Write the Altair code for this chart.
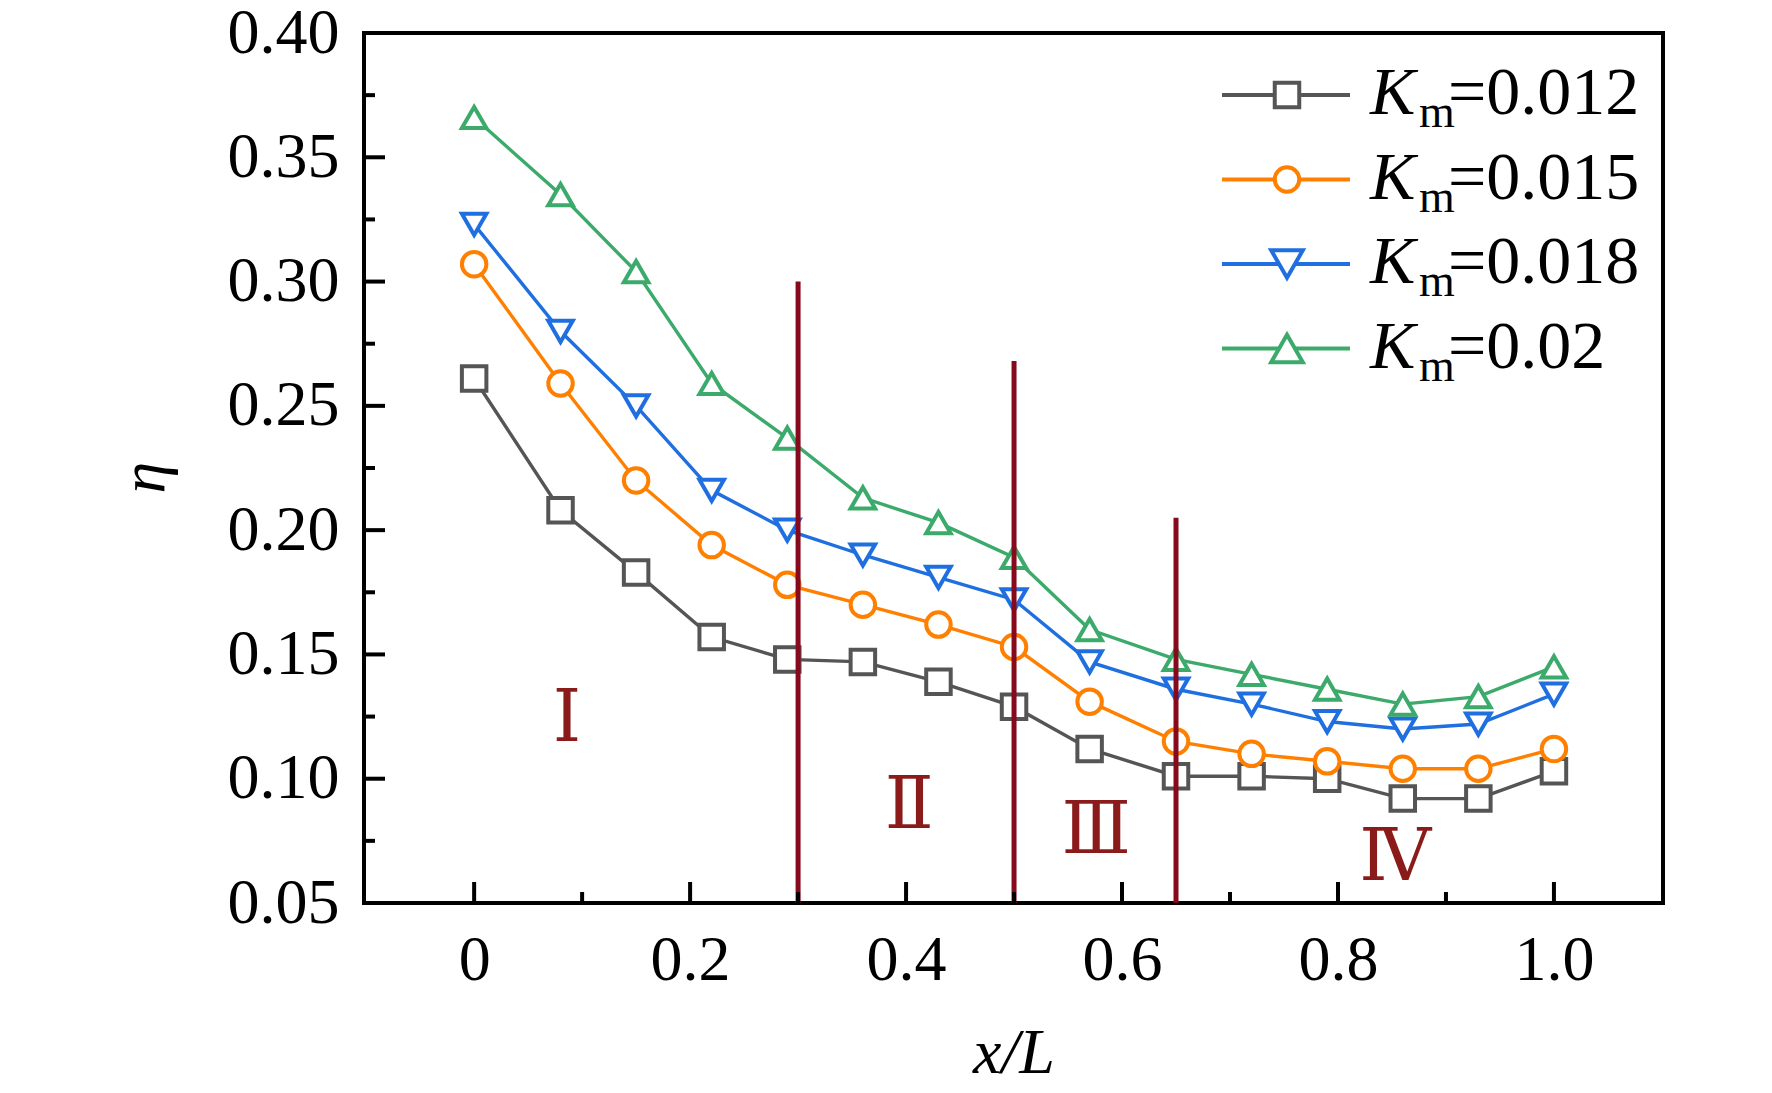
import altair as alt
import pandas as pd

# ---- data ----
x_pos = [0, 0.08, 0.15, 0.22, 0.29, 0.36, 0.43, 0.50, 0.57, 0.65, 0.72, 0.79, 0.86, 0.93, 1.0]
km_012 = [0.261, 0.208, 0.183, 0.157, 0.148, 0.147, 0.139, 0.129, 0.112, 0.101, 0.101, 0.100, 0.092, 0.092, 0.103]
km_015 = [0.307, 0.259, 0.220, 0.194, 0.178, 0.170, 0.162, 0.153, 0.131, 0.115, 0.110, 0.107, 0.104, 0.104, 0.112]
km_018 = [0.323, 0.280, 0.250, 0.216, 0.200, 0.190, 0.181, 0.172, 0.147, 0.136, 0.130, 0.123, 0.120, 0.122, 0.134]
km_020 = [0.366, 0.335, 0.304, 0.259, 0.237, 0.213, 0.203, 0.189, 0.160, 0.148, 0.142, 0.136, 0.130, 0.133, 0.145]
series_names = ["0.012", "0.015", "0.018", "0.02"]
series_values = [km_012, km_015, km_018, km_020]
series_colors = ["#555555", "#FF8000", "#1F6FE0", "#3BAA6B"]
series_shapes = ["square", "circle", "triangle-down", "triangle-up"]
series_sizes = [600, 600, 1000, 1000]

bound_x = [0.30, 0.50, 0.65]
bound_top = [0.300, 0.268, 0.205]
bound_bottom = 0.05

region_labels = ["Ⅰ", "Ⅱ", "Ⅲ", "Ⅳ"]
region_x = [0.086, 0.403, 0.576, 0.853]
region_y = [0.124, 0.089, 0.079, 0.068]

x_major = [0, 0.2, 0.4, 0.6, 0.8, 1.0]
x_minor = [0.1, 0.3, 0.5, 0.7, 0.9]
y_major = [0.05, 0.10, 0.15, 0.20, 0.25, 0.30, 0.35, 0.40]
y_minor = [0.075, 0.125, 0.175, 0.225, 0.275, 0.325, 0.375]

# ---- tables ----
rows = []
for name, vals in zip(series_names, series_values):
    for xv, yv in zip(x_pos, vals):
        rows.append({"series": name, "x": xv, "eta": yv})
df = pd.DataFrame(rows)
bounds = pd.DataFrame({"x": bound_x, "eta": bound_top, "bottom": [bound_bottom] * len(bound_x)})
regions = pd.DataFrame({"label": region_labels, "x": region_x, "eta": region_y})

FONT = "Liberation Serif"
W, H = 1299, 870
xscale = alt.Scale(domain=[-0.102, 1.101], nice=False, zero=False)
yscale = alt.Scale(domain=[0.05, 0.40], nice=False, zero=False)
color = alt.Color("series:N", scale=alt.Scale(domain=series_names, range=series_colors), legend=None)
shape = alt.Shape("series:N", scale=alt.Scale(domain=series_names, range=series_shapes), legend=None)
size = alt.Size("series:N", scale=alt.Scale(domain=series_names, range=series_sizes), legend=None)

X = lambda: alt.X("x:Q", scale=xscale)
Y = lambda: alt.Y("eta:Q", scale=yscale)

base = alt.Chart(df)
lines = base.mark_line(strokeWidth=3.4).encode(
    x=alt.X("x:Q", scale=xscale,
            axis=alt.Axis(values=x_major, title="x/L", titleFontStyle="italic",
                          labelExpr="datum.value == 0 ? '0' : format(datum.value, '.1f')",
                          labelBaseline="alphabetic", labelPadding=76,
                          titleBaseline="alphabetic", titleY=169)),
    y=alt.Y("eta:Q", scale=yscale,
            axis=alt.Axis(values=y_major, format=".2f", title="η", titleFontStyle="italic",
                          labelPadding=25, titleX=-201, titleY=444,
                          titleBaseline="alphabetic", titleAngle=-90)),
    color=color, detail="series:N",
)
points = base.mark_point(filled=False, fill="white", fillOpacity=1, opacity=1, strokeWidth=4).encode(
    x=X(), y=Y(), color=color, shape=shape, size=size,
)

rules = alt.Chart(bounds).mark_rule(color="#870A1C", strokeWidth=5).encode(
    x=X(), y=Y(), y2="bottom:Q",
)

region_text = alt.Chart(regions).mark_text(
    font="DejaVu Serif", fontSize=72, color="#8B1A1A", align="center", baseline="middle"
).encode(x=X(), y=Y(), text="label:N")

# inward ticks
def xticks(vals, length):
    return alt.Chart(pd.DataFrame({"x": vals})).mark_rule(color="black", strokeWidth=4).encode(
        x=X(), y=alt.value(H), y2=alt.value(H - length))

def yticks(vals, length):
    return alt.Chart(pd.DataFrame({"eta": vals})).mark_rule(color="black", strokeWidth=4).encode(
        y=Y(), x=alt.value(0), x2=alt.value(length))

ticks = [xticks(x_major, 21), xticks(x_minor, 11), yticks(y_major, 21), yticks(y_minor, 11)]

# custom legend (K with subscript m)
legend_layers = []
for i, (name, col, shp, sz) in enumerate(zip(series_names, series_colors, series_shapes, series_sizes)):
    ry = 62 + 84.5 * i
    d = alt.Chart(pd.DataFrame({"label": [name], "eq": ["=" + name]}))
    legend_layers.append(d.mark_rule(color=col, strokeWidth=4).encode(
        x=alt.value(858), x2=alt.value(986), y=alt.value(ry)))
    legend_layers.append(d.mark_point(shape=shp, size=sz, filled=False, fill="white", fillOpacity=1,
                                      opacity=1, strokeWidth=4, color=col).encode(
        x=alt.value(923), y=alt.value(ry)))
    legend_layers.append(d.mark_text(text="K", font=FONT, fontStyle="italic", fontSize=68, align="left",
                                     baseline="alphabetic", color="black").encode(
        x=alt.value(1006), y=alt.value(ry + 19)))
    legend_layers.append(d.mark_text(text="m", font=FONT, fontSize=46, align="left",
                                     baseline="alphabetic", color="black").encode(
        x=alt.value(1055), y=alt.value(ry + 32)))
    legend_layers.append(d.mark_text(font=FONT, fontSize=68, align="left",
                                     baseline="alphabetic", color="black").encode(
        x=alt.value(1084), y=alt.value(ry + 19), text="eq:N"))

chart = alt.layer(lines, points, rules, region_text, *ticks, *legend_layers).properties(
    width=W, height=H,
    autosize=alt.AutoSizeParams(type="none"),
    padding={"left": 356, "top": 25, "right": 100, "bottom": 185},
    background="white",
).configure_view(stroke="black", strokeWidth=4).configure_axis(
    grid=False, domain=False, ticks=False,
    labelFont=FONT, labelFontSize=64, labelColor="black",
    titleFont=FONT, titleFontSize=64, titleColor="black", titleFontWeight="normal",
)

chart.save("out.html", embed_options={"renderer": "svg", "actions": False})
